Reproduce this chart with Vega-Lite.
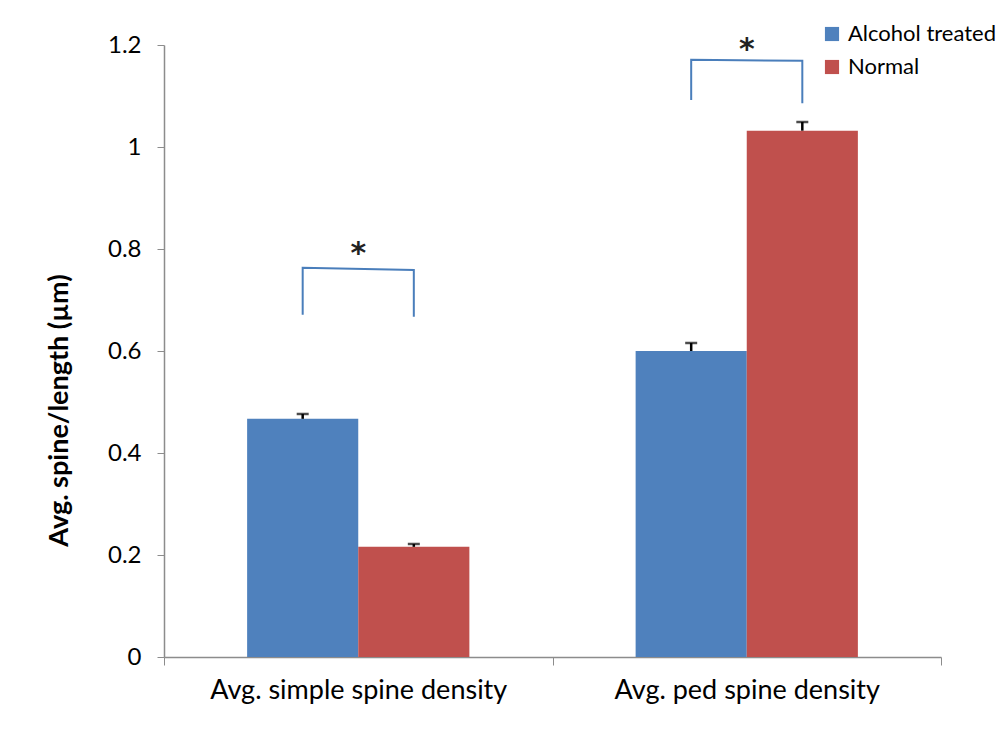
{
  "$schema": "https://vega.github.io/schema/vega-lite/v6.json",
  "width": 777,
  "height": 612,
  "autosize": {"type": "none"},
  "padding": {"left": 164, "top": 45, "right": 61, "bottom": 80},
  "background": "white",
  "config": {
    "view": {"stroke": null},
    "font": "Lato",
    "axis": {"domainColor": "#8c8c8c", "tickColor": "#8c8c8c", "grid": false, "labelColor": "black", "titleColor": "black", "labelFont": "Lato", "titleFont": "Lato", "domainWidth": 1.5, "labelLimit": 0},
    "axisX": {"labelAngle": 0, "labelFontSize": 27, "labelPadding": 12, "tickSize": 8, "tickBand": "extent"},
    "axisY": {"titleFontSize": 27, "titleFontWeight": "bold", "titleX": -91, "titleY": 365, "titleBaseline": "bottom", "titleAngle": 270, "titleAlign": "center", "labelFontSize": 24, "labelPadding": 16, "tickSize": 7},
    "legend": {"labelFontSize": 22, "labelFont": "Lato", "labelColor": "black"}
  },
  "datasets": {
    "bars": [
      {"category": "Avg. simple spine density", "group": "Alcohol treated", "value": 0.467, "upper": 0.4765},
      {"category": "Avg. simple spine density", "group": "Normal", "value": 0.216, "upper": 0.2216},
      {"category": "Avg. ped spine density", "group": "Alcohol treated", "value": 0.600, "upper": 0.6157},
      {"category": "Avg. ped spine density", "group": "Normal", "value": 1.032, "upper": 1.049}
    ],
    "brackets": [
      {"bracket": "A", "category": "Avg. simple spine density", "group": "Alcohol treated", "value": 0.671, "ord": 1},
      {"bracket": "A", "category": "Avg. simple spine density", "group": "Alcohol treated", "value": 0.763, "ord": 2},
      {"bracket": "A", "category": "Avg. simple spine density", "group": "Normal", "value": 0.759, "ord": 3},
      {"bracket": "A", "category": "Avg. simple spine density", "group": "Normal", "value": 0.667, "ord": 4},
      {"bracket": "B", "category": "Avg. ped spine density", "group": "Alcohol treated", "value": 1.092, "ord": 1},
      {"bracket": "B", "category": "Avg. ped spine density", "group": "Alcohol treated", "value": 1.171, "ord": 2},
      {"bracket": "B", "category": "Avg. ped spine density", "group": "Normal", "value": 1.169, "ord": 3},
      {"bracket": "B", "category": "Avg. ped spine density", "group": "Normal", "value": 1.086, "ord": 4}
    ],
    "stars": [
      {"category": "Avg. simple spine density", "value": 0.79, "label": "*"},
      {"category": "Avg. ped spine density", "value": 1.19, "label": "*"}
    ]
  },
  "layer": [
    {
      "data": {"name": "bars"},
      "mark": {"type": "bar"},
      "encoding": {
        "x": {
          "field": "category", "type": "nominal", "sort": null,
          "scale": {"paddingInner": 0, "paddingOuter": 0},
          "axis": {"title": null}
        },
        "xOffset": {
          "field": "group", "type": "nominal", "sort": ["Alcohol treated", "Normal"],
          "scale": {"paddingInner": 0, "paddingOuter": 0.748}
        },
        "y": {
          "field": "value", "type": "quantitative",
          "scale": {"domain": [0, 1.2], "nice": false},
          "axis": {"title": "Avg. spine/length (µm)", "format": "~g", "values": [0, 0.2, 0.4, 0.6, 0.8, 1, 1.2]}
        },
        "color": {
          "field": "group", "type": "nominal",
          "scale": {"domain": ["Alcohol treated", "Normal"], "range": ["#4F81BD", "#C0504D"]},
          "legend": {"title": null, "orient": "none", "legendX": 657, "legendY": -22, "symbolType": "square", "symbolSize": 200, "symbolStrokeWidth": 0, "rowPadding": 11, "labelOffset": 5}
        }
      }
    },
    {
      "data": {"name": "bars"},
      "mark": {"type": "rule", "color": "black", "strokeWidth": 2.5},
      "encoding": {
        "x": {"field": "category", "type": "nominal", "sort": null},
        "xOffset": {"field": "group", "type": "nominal", "sort": ["Alcohol treated", "Normal"]},
        "y": {"field": "value", "type": "quantitative"},
        "y2": {"field": "upper"}
      }
    },
    {
      "data": {"name": "bars"},
      "mark": {"type": "tick", "color": "black", "orient": "horizontal", "size": 12, "thickness": 2.5},
      "encoding": {
        "x": {"field": "category", "type": "nominal", "sort": null},
        "xOffset": {"field": "group", "type": "nominal", "sort": ["Alcohol treated", "Normal"]},
        "y": {"field": "upper", "type": "quantitative"}
      }
    },
    {
      "data": {"name": "brackets"},
      "mark": {"type": "line", "color": "#4A7EBB", "strokeWidth": 2},
      "encoding": {
        "x": {"field": "category", "type": "nominal", "sort": null},
        "xOffset": {"field": "group", "type": "nominal", "sort": ["Alcohol treated", "Normal"]},
        "y": {"field": "value", "type": "quantitative"},
        "detail": {"field": "bracket"},
        "order": {"field": "ord"}
      }
    },
    {
      "data": {"name": "stars"},
      "mark": {"type": "text", "fontSize": 30, "fontWeight": "bold", "color": "#222222", "baseline": "middle", "font": "DejaVu Sans"},
      "encoding": {
        "x": {"field": "category", "type": "nominal", "sort": null},
        "y": {"field": "value", "type": "quantitative"},
        "text": {"field": "label"}
      }
    }
  ]
}
